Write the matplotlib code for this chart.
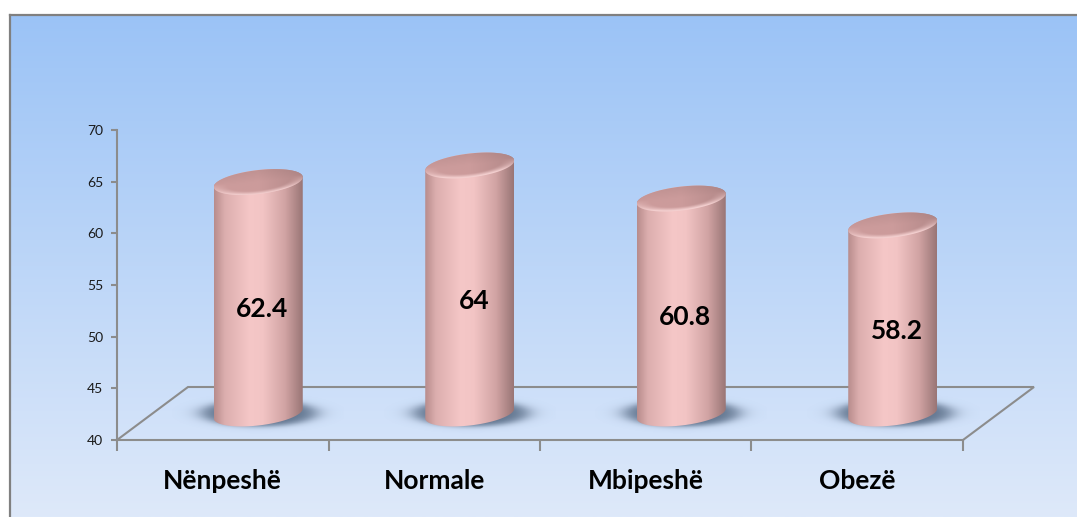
import numpy as np
import matplotlib
matplotlib.use("Agg")
import matplotlib.pyplot as plt
from matplotlib.patches import Polygon
from matplotlib.colors import LinearSegmentedColormap

# ---- data -------------------------------------------------------------
categories = ["Nënpeshë", "Normale", "Mbipeshë", "Obezë"]
values = [62.4, 64, 60.8, 58.2]
y_ticks = [40, 45, 50, 55, 60, 65, 70]

# ---- figure / scales ----------------------------------------------------
W, H = 1077, 517
fig = plt.figure(figsize=(W / 100, H / 100), dpi=100)

PX_X = 211.5     # pixels per category unit
PX_Y = 10.333    # pixels per value unit
Y_MIN, Y_MAX = 40, 70
X_LEFT, X_RIGHT = -0.5, len(categories) - 0.5
DX = 71 / PX_X   # floor depth, horizontal component
DY = 53 / PX_Y   # floor depth, vertical component

GRID = "#8c8c8c"

# gradient background panel with a frame on its left/top
bg = fig.add_axes([10 / W, 0, 1 - 10 / W, 1 - 15 / H])
g = np.linspace(0, 1, 256)[:, None, None]
c_top = np.array([155, 195, 246]) / 255
c_bot = np.array([222, 233, 250]) / 255
bg.imshow(c_top * (1 - g) + c_bot * g, aspect="auto", extent=[0, 1, 0, 1],
          origin="upper")
bg.set_xticks([])
bg.set_yticks([])
for side in ("right", "bottom"):
    bg.spines[side].set_visible(False)
for side in ("left", "top"):
    bg.spines[side].set_color("#808080")
    bg.spines[side].set_linewidth(1.6)

ax = fig.add_axes([0, 0, 1, 1])
ax.patch.set_alpha(0)

# ---- floor ------------------------------------------------------------
ax.plot([X_LEFT, X_LEFT + DX, X_RIGHT + DX, X_RIGHT],
        [Y_MIN, Y_MIN + DY, Y_MIN + DY, Y_MIN],
        color=GRID, lw=1.5, zorder=1, solid_joinstyle="miter")

# ---- cylinders ----------------------------------------------------------
RX_PX, RY_PX, SHEAR = 44.5, 12.0, 0.11
rx = RX_PX / PX_X


def ellipse_pts(cx, cy, t):
    x = cx + rx * np.cos(t)
    y = cy + (RY_PX * np.sin(t) + SHEAR * RX_PX * np.cos(t)) / PX_Y
    return x, y


body_cmap = LinearSegmentedColormap.from_list("body", [
    (0.00, (0.72, 0.55, 0.55)),
    (0.12, (0.86, 0.68, 0.68)),
    (0.40, (0.96, 0.78, 0.78)),
    (0.55, (0.95, 0.77, 0.77)),
    (0.80, (0.82, 0.64, 0.64)),
    (1.00, (0.60, 0.46, 0.46)),
])

# shadow sprite (pixel units around the cylinder foot)
SH_W, SH_Y0, SH_Y1 = 86, -26, 28
xp = np.linspace(-SH_W, SH_W, 240)
yp = np.linspace(SH_Y0, SH_Y1, 90)
XP, YP = np.meshgrid(xp, yp)
rr_sh = np.sqrt(((XP - 1) / 66) ** 2 + ((YP - 1) / 15.5) ** 2)
shadow = np.zeros((90, 240, 4))
shadow[..., 0], shadow[..., 1], shadow[..., 2] = 78 / 255, 98 / 255, 124 / 255
shadow[..., 3] = 0.85 / (1 + np.exp((rr_sh - 0.86) / 0.09))

for i, v in enumerate(values):
    cx = i + DX / 2
    cb = Y_MIN + DY / 2
    ct = v + DY / 2

    # soft floor shadow
    ax.imshow(shadow, origin="lower", aspect="auto", zorder=2,
              interpolation="bilinear",
              extent=[cx - SH_W / PX_X, cx + SH_W / PX_X,
                      cb + SH_Y0 / PX_Y, cb + SH_Y1 / PX_Y])

    # body
    tb = np.linspace(np.pi, 2 * np.pi, 80)
    tt = np.linspace(0, np.pi, 80)
    bx, by = ellipse_pts(cx, cb, tb)
    tx, ty = ellipse_pts(cx, ct, tt)
    outline = np.column_stack([np.r_[bx, tx], np.r_[by, ty]])
    body = Polygon(outline, closed=True, facecolor="none",
                   edgecolor="none", zorder=3)
    ax.add_patch(body)
    grad = np.linspace(0, 1, 256)[None, :]
    im = ax.imshow(grad, cmap=body_cmap, aspect="auto",
                   extent=[cx - rx, cx + rx, cb - 2, ct + 2],
                   zorder=3, interpolation="bilinear")
    im.set_clip_path(body)

    # top face
    tf = np.linspace(0, 2 * np.pi, 160)
    fx, fy = ellipse_pts(cx, ct, tf)
    top = Polygon(np.column_stack([fx, fy]), closed=True,
                  facecolor="none", edgecolor="none", zorder=4)
    ax.add_patch(top)
    n = 120
    X, Y = np.meshgrid(np.linspace(-1, 1, n), np.linspace(-1, 1, n))
    # local ellipse coordinates (shear removed)
    ww = (Y * (RY_PX + SHEAR * RX_PX) - SHEAR * RX_PX * X) / RY_PX
    rr = np.sqrt(X ** 2 + ww ** 2)
    base = np.array([0.80, 0.61, 0.61])
    shade = base[None, None, :] * (1 - 0.12 * np.clip(X, 0, 1)[..., None]
                                   - 0.06 * np.clip(ww, 0, 1)[..., None])
    rim = np.clip((rr - 0.72) / 0.28, 0, 1) * np.clip(-ww + 0.2, 0, 1)
    light = np.array([0.96, 0.82, 0.82])
    top_img = shade * (1 - rim[..., None]) + light * rim[..., None]
    ext_y = (RY_PX + SHEAR * RX_PX) / PX_Y
    im2 = ax.imshow(np.clip(top_img, 0, 1), origin="lower", aspect="auto",
                    extent=[cx - rx, cx + rx, ct - ext_y, ct + ext_y],
                    zorder=4, interpolation="bilinear")
    im2.set_clip_path(top)

    # value label
    mid = Y_MIN + (v - Y_MIN) / 2 + DY / 2 - 1.1
    ax.text(cx + 4 / PX_X, mid, f"{v:g}", ha="center", va="center",
            fontsize=19, fontweight="bold", family="Lato", color="black",
            zorder=6)

# ---- axes ---------------------------------------------------------------
ax.set_xlim(X_LEFT - 117 / PX_X, X_LEFT + (W - 117) / PX_X)
ax.set_ylim(Y_MIN - 77 / PX_Y, Y_MIN + 440 / PX_Y)

for side in ("top", "right"):
    ax.spines[side].set_visible(False)
for side in ("left", "bottom"):
    ax.spines[side].set_color(GRID)
    ax.spines[side].set_linewidth(1.5)
    ax.spines[side].set_zorder(5)
ax.spines["left"].set_position(("data", X_LEFT))
ax.spines["left"].set_bounds(Y_MIN, Y_MAX)
ax.spines["bottom"].set_position(("data", Y_MIN))
ax.spines["bottom"].set_bounds(X_LEFT, X_RIGHT)

ax.set_yticks(y_ticks)
ax.set_yticklabels([str(t) for t in y_ticks], fontsize=10, family="Lato",
                   color="#1a1a1a")
ax.tick_params(axis="y", length=4, width=1.5, color=GRID, pad=6)

ax.set_xticks(np.arange(X_LEFT, X_RIGHT + 0.01, 1.0))
ax.set_xticklabels([])
ax.tick_params(axis="x", which="major", length=8, width=1.5, color=GRID)
ax.set_xticks(np.arange(len(categories)), minor=True)
ax.set_xticklabels(categories, minor=True, fontsize=19, fontweight="bold",
                   family="Lato", color="black")
ax.tick_params(axis="x", which="minor", length=0, pad=21)

fig.savefig("out.png", dpi=100)
